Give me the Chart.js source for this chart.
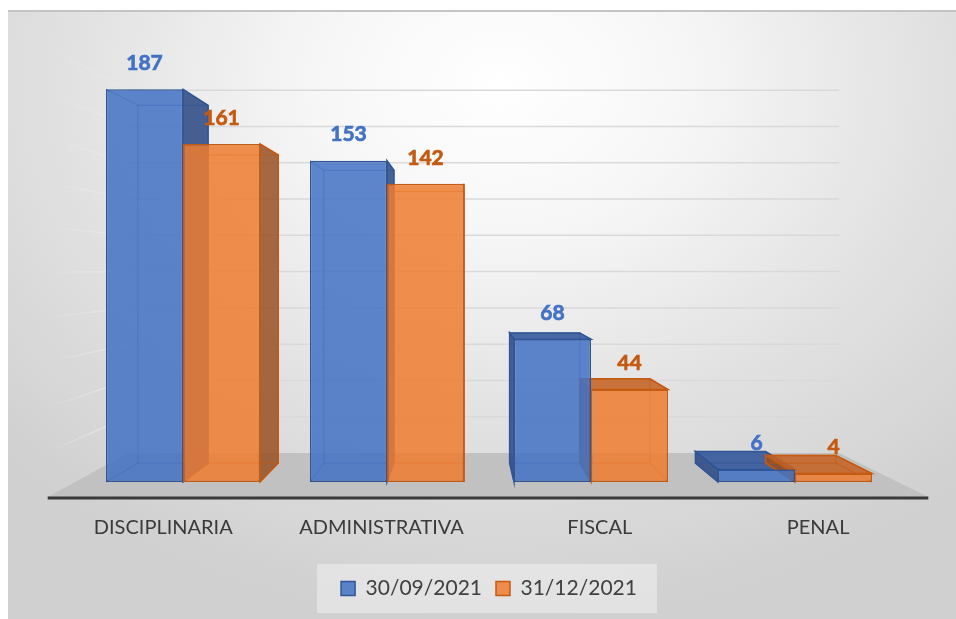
<!DOCTYPE html>
<html><head><meta charset="utf-8">
<script src="https://cdn.jsdelivr.net/npm/chart.js@4.4.1/dist/chart.umd.min.js"></script>
<style>
html,body{margin:0;padding:0;background:#fff;width:956px;height:619px;overflow:hidden}
#frame{position:absolute;left:8px;top:10px;width:948px;height:609px;border-top:2px solid #c4c4c4;box-sizing:border-box;
background:radial-gradient(ellipse 72% 88% at 52% 12%, #ffffff 0%, #f6f6f6 28%, #e2e2e2 62%, #d0d0d0 100%);}
#wrap{position:absolute;left:0;top:0;width:956px;height:619px}
</style></head><body>
<div id="frame"></div>
<div id="wrap"><canvas id="c" width="956" height="619"></canvas></div>
<script>
// ---- data ----
const categories = ['DISCIPLINARIA', 'ADMINISTRATIVA', 'FISCAL', 'PENAL'];
const seriesNames = ['30/09/2021', '31/12/2021'];
const valuesSep = [187, 153, 68, 6];
const valuesDec = [161, 142, 44, 4];
const axisMin = 0;
const axisMax = 200;
const axisStep = 20;

// ---- styles ----
const FONT = 'Lato';
const styles = [
  {fill: 'rgba(68,114,196,0.86)', border: '#2F5597', side: 'rgba(40,70,130,0.85)', top: 'rgba(50,86,156,0.88)', label: '#4472C4'},
  {fill: 'rgba(237,125,49,0.86)', border: '#C55A11', side: 'rgba(150,80,35,0.85)', top: 'rgba(196,98,36,0.88)', label: '#C55A11'}
];
const K_FLOOR = 1.07, K_BACK = 0.911, K_WALL = 0.864;

function vanish(chart) {
  const a = chart.chartArea;
  return {x: a.left + 0.4706 * (a.right - a.left), y: a.top + 0.493 * (a.bottom - a.top)};
}
function proj(V, x, y, k) { return {x: V.x + k * (x - V.x), y: V.y + k * (y - V.y)}; }
function poly(ctx, pts) { ctx.beginPath(); ctx.moveTo(pts[0].x, pts[0].y); for (let i = 1; i < pts.length; i++) ctx.lineTo(pts[i].x, pts[i].y); ctx.closePath(); }

const scene3d = {
  id: 'scene3d',
  beforeDraw(chart) {
    const lg = chart.legend;
    if (!lg || !lg.legendHitBoxes || !lg.legendHitBoxes.length) return;
    const hb = lg.legendHitBoxes;
    let l = Infinity, r = -Infinity, t = Infinity, b = -Infinity;
    hb.forEach(h => { l = Math.min(l, h.left); r = Math.max(r, h.left + h.width); t = Math.min(t, h.top); b = Math.max(b, h.top + h.height); });
    const ctx = chart.ctx;
    ctx.save();
    ctx.fillStyle = 'rgba(240,240,240,0.55)';
    ctx.fillRect(l - 24, t - 14, (r - l) + 44, (b - t) + 28);
    ctx.restore();
  },
  beforeDatasetsDraw(chart) {
    const ctx = chart.ctx, a = chart.chartArea, ys = chart.scales.y;
    const V = vanish(chart);
    const L = a.left - 6, R = a.right + 1;
    const base = ys.getPixelForValue(axisMin);
    ctx.save();
    // floor
    poly(ctx, [proj(V, L, base, K_WALL), proj(V, R, base, K_WALL), proj(V, R, base, K_FLOOR), proj(V, L, base, K_FLOOR)]);
    ctx.fillStyle = '#c1c1c1';
    ctx.fill();
    // gridlines (back wall + left wall)
    ys.ticks.forEach(t => {
      if (t.value <= axisMin) return;
      const Y = ys.getPixelForValue(t.value);
      const bl = proj(V, L, Y, K_WALL), br = proj(V, R, Y, K_WALL), fl = proj(V, L, Y, K_FLOOR);
      ctx.lineWidth = 1.5;
      ctx.strokeStyle = '#d9d9d9';
      ctx.beginPath(); ctx.moveTo(bl.x, bl.y); ctx.lineTo(br.x, br.y); ctx.stroke();
      const g = ctx.createLinearGradient(fl.x, fl.y, bl.x, bl.y);
      g.addColorStop(0, 'rgba(236,236,236,0)');
      g.addColorStop(1, 'rgba(232,232,232,0.95)');
      ctx.strokeStyle = g;
      ctx.beginPath(); ctx.moveTo(fl.x, fl.y); ctx.lineTo(bl.x, bl.y); ctx.stroke();
    });
    // axis line (front edge of floor)
    const f1 = proj(V, L, base, K_FLOOR), f2 = proj(V, R, base, K_FLOOR);
    ctx.strokeStyle = '#3a3a3a'; ctx.lineWidth = 3;
    ctx.beginPath(); ctx.moveTo(f1.x, f1.y + 1); ctx.lineTo(f2.x, f2.y + 1); ctx.stroke();
    // back edges + visible side / top faces of each bar
    chart.data.datasets.forEach((ds, di) => {
      const meta = chart.getDatasetMeta(di);
      const st = styles[di];
      meta.data.forEach(el => {
        const p = el.getProps(['x', 'y', 'base', 'width'], true);
        const xl = p.x - p.width / 2, xr = p.x + p.width / 2, yt = p.y, yb = p.base;
        const BTL = proj(V, xl, yt, K_BACK), BTR = proj(V, xr, yt, K_BACK), BBR = proj(V, xr, yb, K_BACK), BBL = proj(V, xl, yb, K_BACK);
        const FTL = {x: xl, y: yt}, FTR = {x: xr, y: yt}, FBR = {x: xr, y: yb}, FBL = {x: xl, y: yb};
        ctx.lineWidth = 1.5;
        ctx.strokeStyle = st.border;
        if (xr < V.x) { poly(ctx, [FTR, BTR, BBR, FBR]); ctx.fillStyle = st.side; ctx.fill(); ctx.stroke(); }
        if (xl > V.x) { poly(ctx, [FTL, BTL, BBL, FBL]); ctx.fillStyle = st.side; ctx.fill(); ctx.stroke(); }
        if (yt > V.y) { poly(ctx, [FTL, FTR, BTR, BTL]); ctx.fillStyle = st.top; ctx.fill(); ctx.stroke(); }
        ctx.globalAlpha = 0.55; ctx.lineWidth = 1.2;
        poly(ctx, [BTL, BTR, BBR, BBL]); ctx.stroke();
        ctx.beginPath();
        [[FTL, BTL], [FTR, BTR], [FBR, BBR], [FBL, BBL]].forEach(([s, e]) => { ctx.moveTo(s.x, s.y); ctx.lineTo(e.x, e.y); });
        ctx.stroke();
        ctx.globalAlpha = 1;
      });
    });
    ctx.restore();
  },
  afterDatasetsDraw(chart) {
    const ctx = chart.ctx, xs = chart.scales.x, ys = chart.scales.y;
    const V = vanish(chart);
    const base = ys.getPixelForValue(axisMin);
    ctx.save();
    ctx.textAlign = 'center';
    ctx.textBaseline = 'middle';
    // value labels
    ctx.font = 'bold 21px ' + FONT;
    ctx.lineWidth = 0.7;
    chart.data.datasets.forEach((ds, di) => {
      const meta = chart.getDatasetMeta(di);
      ctx.fillStyle = styles[di].label;
      ctx.strokeStyle = styles[di].label;
      meta.data.forEach((el, i) => {
        const p = el.getProps(['x', 'y'], true);
        ctx.fillText(String(ds.data[i]), p.x, p.y - 26);
        ctx.strokeText(String(ds.data[i]), p.x, p.y - 26);
      });
    });
    // category labels along the front edge of the floor
    ctx.font = '20px ' + FONT;
    ctx.fillStyle = '#3a3a3a';
    chart.data.labels.forEach((lab, i) => {
      const X = xs.getPixelForValue(i);
      const q = proj(V, X, base, K_FLOOR);
      ctx.fillText(lab, q.x, base + 46);
    });
    ctx.restore();
  }
};

new Chart(document.getElementById('c'), {
  type: 'bar',
  data: {
    labels: categories,
    datasets: [
      {label: seriesNames[0], data: valuesSep, backgroundColor: styles[0].fill, borderColor: styles[0].border, borderWidth: 1.5, borderSkipped: false},
      {label: seriesNames[1], data: valuesDec, backgroundColor: styles[1].fill, borderColor: styles[1].border, borderWidth: 1.5, borderSkipped: false}
    ]
  },
  options: {
    responsive: false,
    animation: false,
    devicePixelRatio: 1,
    categoryPercentage: 0.755,
    barPercentage: 1,
    layout: {padding: {left: 81, right: 59, top: 62, bottom: 10}},
    scales: {
      x: {display: true, grid: {display: false}, border: {display: false}, ticks: {display: false},
          afterFit(s) { s.height = 82; }},
      y: {display: false, min: axisMin, max: axisMax, ticks: {stepSize: axisStep}}
    },
    plugins: {
      legend: {position: 'bottom', labels: {boxWidth: 14, boxHeight: 14, padding: 14, color: '#404040', font: {family: FONT, size: 21}}},
      tooltip: {enabled: false}
    }
  },
  plugins: [scene3d]
});
</script>
</body></html>
